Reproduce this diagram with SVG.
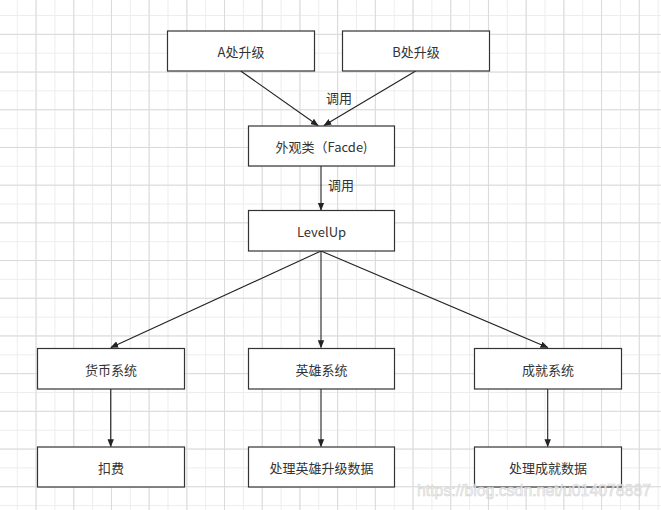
<svg xmlns="http://www.w3.org/2000/svg" width="661" height="510" viewBox="0 0 661 510">
<defs>
<pattern id="minor" x="16.7" y="15" width="18.85" height="18.85" patternUnits="userSpaceOnUse">
<path d="M0.5 0V18.85M0 0.5H18.85" fill="none" stroke="#ededed" stroke-width="1"/>
</pattern>
<pattern id="major" x="35.55" y="33.85" width="37.7" height="37.7" patternUnits="userSpaceOnUse">
<path d="M0.5 0V37.7M0 0.5H37.7" fill="none" stroke="#dadada" stroke-width="1"/>
</pattern>
<marker id="arr" viewBox="0 0 10 10" refX="9" refY="5" markerWidth="8" markerHeight="8" markerUnits="userSpaceOnUse" orient="auto">
<path d="M0 1L10 5L0 9Z" fill="#222"/>
</marker>
</defs>
<style>
.box{fill:#fff;stroke:#333;stroke-width:1.2}
.t{font-family:"Noto Sans CJK SC","Noto Sans",sans-serif;font-size:13px;fill:#333;text-anchor:middle;dominant-baseline:central}
.e{fill:none;stroke:#222;stroke-width:1.1;marker-end:url(#arr)}
.lbl{font-family:"Noto Sans CJK SC","Noto Sans",sans-serif;font-size:13px;fill:#333;text-anchor:start;dominant-baseline:central}
</style>
<rect width="661" height="510" fill="#fff"/>
<rect width="661" height="510" fill="url(#minor)"/>
<rect width="661" height="510" fill="url(#major)"/>

<g id="edges">
<line class="e" x1="240.7" y1="71" x2="318" y2="125.5"/>
<line class="e" x1="415.7" y1="71" x2="324" y2="125.5"/>
<line class="e" x1="321" y1="166" x2="321" y2="210"/>
<line class="e" x1="321" y1="251" x2="111" y2="347.5"/>
<line class="e" x1="321" y1="251" x2="321" y2="347.5"/>
<line class="e" x1="321" y1="251" x2="547.7" y2="347.5"/>
<line class="e" x1="110.7" y1="389" x2="110.7" y2="446.5"/>
<line class="e" x1="321" y1="389" x2="321" y2="446.5"/>
<line class="e" x1="547.7" y1="389" x2="547.7" y2="446.5"/>
<text class="lbl" x="326" y="97">调用</text>
<text class="lbl" x="328" y="184">调用</text>
</g>

<g id="nodeA"><rect class="box" x="167.5" y="31" width="147" height="40"/><text class="t" x="241" y="51">A处升级</text></g>
<g id="nodeB"><rect class="box" x="342.5" y="31" width="147" height="40"/><text class="t" x="416" y="51">B处升级</text></g>
<g id="facade"><rect class="box" x="248.5" y="126" width="146" height="40"/><text class="t" x="321.5" y="146">外观类（Facde)</text></g>
<g id="levelup"><rect class="box" x="248.5" y="210.5" width="146" height="40.5"/><text class="t" x="321.5" y="231">LevelUp</text></g>
<g id="money"><rect class="box" x="37.5" y="348.5" width="147" height="40.5"/><text class="t" x="111" y="369">货币系统</text></g>
<g id="hero"><rect class="box" x="248.5" y="348.5" width="146" height="40.5"/><text class="t" x="321.5" y="369">英雄系统</text></g>
<g id="achieve"><rect class="box" x="474.5" y="348.5" width="147" height="40.5"/><text class="t" x="548" y="369">成就系统</text></g>
<g id="deduct"><rect class="box" x="37.5" y="447" width="147" height="40"/><text class="t" x="111" y="467">扣费</text></g>
<g id="heroData"><rect class="box" x="248.5" y="447" width="146" height="40"/><text class="t" x="321.5" y="467">处理英雄升级数据</text></g>
<g id="achieveData"><rect class="box" x="474.5" y="447" width="147" height="40"/><text class="t" x="548" y="467">处理成就数据</text></g>

<text x="417" y="496" font-family="Liberation Sans, Arial, sans-serif" font-size="17" textLength="234" lengthAdjust="spacingAndGlyphs" fill="#f4f4f4" stroke="#cfcfcf" stroke-width="0.6" opacity="0.9">https://blog.csdn.net/u014078887</text>
</svg>
